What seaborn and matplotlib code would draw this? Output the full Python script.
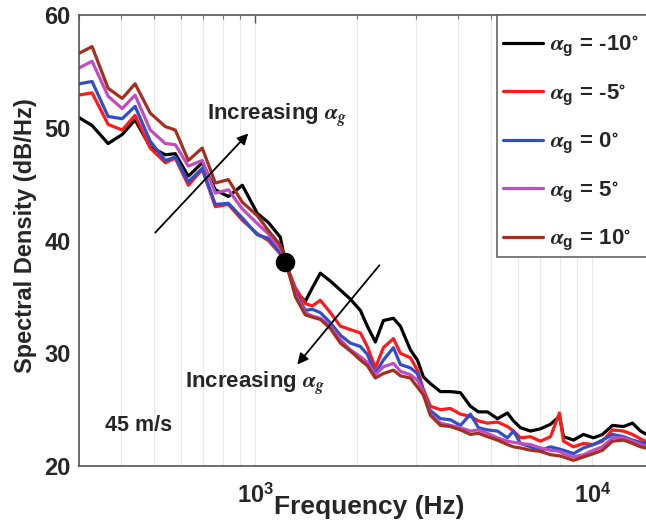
import numpy as np
import pandas as pd
import matplotlib
matplotlib.use("Agg")
import matplotlib.pyplot as plt
from matplotlib.patches import Rectangle
from matplotlib.ticker import LogLocator, NullFormatter, FixedLocator, MultipleLocator
import seaborn as sns

# ---- data -------------------------------------------------------------
freq_hz = [300, 328, 366, 403, 440, 488, 541, 579, 633, 696, 761, 832, 915,
           1014, 1093, 1186, 1227, 1315, 1407, 1476, 1559, 1670, 1788, 1914,
           2049, 2149, 2270, 2398, 2568, 2693, 2884, 3025, 3151, 3306, 3540,
           3790, 4058, 4345, 4589, 4880, 5225, 5595, 5831, 6114, 6546, 7010,
           7505, 7982, 8203, 8783, 9404, 10069, 10708, 11464, 12359, 13146,
           13883, 14862]

psd_m10 = [50.9, 50.2, 48.6, 49.4, 50.7, 48.3, 47.6, 47.7, 45.7, 46.9, 44.5,
           43.9, 44.9, 42.4, 41.6, 40.3, 38.1, 35.5, 34.6, 35.8, 37.1, 36.4,
           35.6, 34.8, 33.8, 32.4, 31.0, 32.9, 33.1, 32.4, 30.3, 29.4, 27.9,
           27.3, 26.6, 26.6, 26.5, 25.3, 24.8, 24.8, 24.2, 24.7, 24.0, 23.4,
           23.1, 23.3, 23.7, 24.4, 22.6, 22.3, 22.8, 22.5, 22.8, 23.6, 23.5,
           23.8, 23.1, 22.6]

psd_m5 = [52.9, 53.1, 50.3, 49.8, 51.1, 48.2, 46.9, 47.3, 44.9, 46.3, 43.0,
          43.2, 41.8, 40.6, 40.0, 38.8, 38.1, 35.8, 34.4, 34.2, 34.7, 33.6,
          32.4, 32.1, 31.8, 30.6, 28.7, 30.5, 31.3, 30.0, 29.6, 28.5, 26.8,
          25.3, 25.0, 25.1, 24.6, 24.4, 24.0, 23.8, 23.9, 23.5, 23.1, 22.5,
          22.6, 22.2, 22.6, 24.7, 22.2, 21.7, 22.0, 21.9, 22.2, 23.2, 23.1,
          22.8, 22.4, 22.0]

psd_0 = [53.9, 54.1, 51.0, 50.8, 51.9, 48.8, 47.1, 47.4, 45.2, 46.4, 43.2,
         43.3, 42.0, 40.5, 40.2, 38.9, 38.1, 35.4, 33.8, 33.9, 33.6, 32.7,
         31.6, 30.9, 30.6, 29.9, 28.2, 29.4, 30.5, 29.0, 28.7, 28.2, 26.5,
         24.9, 24.2, 24.1, 23.6, 24.6, 23.4, 23.2, 23.1, 22.5, 23.1, 22.0,
         21.7, 21.4, 21.7, 21.5, 21.4, 21.1, 21.6, 21.9, 22.3, 22.8, 22.6,
         22.3, 22.1, 21.9]

psd_p5 = [55.3, 55.9, 52.8, 51.7, 52.9, 49.8, 48.6, 48.5, 46.6, 47.1, 44.2,
          44.5, 42.8, 41.5, 40.6, 39.3, 38.2, 35.2, 33.6, 33.3, 33.1, 32.4,
          31.2, 30.3, 29.7, 29.2, 28.1, 28.8, 29.1, 28.4, 28.1, 27.6, 26.5,
          24.6, 23.8, 23.6, 23.4, 23.1, 23.2, 22.9, 22.5, 22.2, 22.1, 22.0,
          21.9, 21.6, 21.4, 21.3, 21.1, 20.8, 21.0, 21.4, 21.7, 22.5, 22.5,
          22.2, 21.9, 21.6]

psd_p10 = [56.6, 57.2, 53.5, 52.6, 53.9, 51.3, 50.1, 49.8, 47.1, 48.2, 45.1,
           45.4, 43.4, 42.2, 40.9, 39.6, 38.4, 35.0, 33.4, 33.2, 33.0, 32.2,
           30.9, 30.2, 29.4, 28.9, 27.8, 28.2, 28.5, 28.0, 27.8, 27.0, 26.3,
           24.5, 23.6, 23.5, 23.2, 22.8, 22.9, 22.6, 22.3, 21.9, 21.7, 21.6,
           21.4, 21.3, 21.0, 20.9, 20.8, 20.5, 20.8, 21.1, 21.4, 22.2, 22.3,
           22.0, 21.7, 21.5]

angle_labels = [r"$\alpha_\mathrm{g}$ = -10$^{\circ}$",
                r"$\alpha_\mathrm{g}$ = -5$^{\circ}$",
                r"$\alpha_\mathrm{g}$ = 0$^{\circ}$",
                r"$\alpha_\mathrm{g}$ = 5$^{\circ}$",
                r"$\alpha_\mathrm{g}$ = 10$^{\circ}$"]
series = [psd_m10, psd_m5, psd_0, psd_p5, psd_p10]
colors = ["#000000", "#ff1a1a", "#2f4fc8", "#c04cc0", "#a3301f"]

# crossover point marked on the spectra
cross_freq = [1227]
cross_psd = [38.1]

yticks = [20, 30, 40, 50, 60]
xticks = [1e3, 1e4]
xtick_labels = [r"$10^{3}$", r"$10^{4}$"]

# ---- style ------------------------------------------------------------
sns.set_style("white")
plt.rcParams["font.family"] = ["Liberation Sans", "DejaVu Sans"]
plt.rcParams["font.weight"] = "bold"
plt.rcParams["mathtext.fontset"] = "custom"
plt.rcParams["mathtext.rm"] = "Liberation Sans:bold"
plt.rcParams["mathtext.bf"] = "Liberation Sans:bold"
plt.rcParams["mathtext.it"] = "STIXGeneral:italic"
plt.rcParams["mathtext.fallback"] = "stix"

df = pd.concat(
    [pd.DataFrame({"Frequency": freq_hz, "PSD": vals, "angle": lab})
     for vals, lab in zip(series, angle_labels)],
    ignore_index=True)

fig = plt.figure(figsize=(6.46, 5.27), dpi=100)
W, H = 646, 527
ax = fig.add_axes([79 / W, 61 / H, 615 / W, 451 / H])

sns.lineplot(data=df, x="Frequency", y="PSD", hue="angle",
             hue_order=angle_labels, palette=colors, linewidth=2.3,
             ax=ax, legend=True, sort=False)
sns.scatterplot(x=cross_freq, y=cross_psd, color="black", s=170,
                edgecolor="black", ax=ax, zorder=5, legend=False)

ax.set_xscale("log")
ax.set_xlim(300, 20000)
ax.set_ylim(20, 60)

ax.xaxis.set_major_locator(FixedLocator(xticks))
ax.set_xticklabels(xtick_labels)
ax.xaxis.set_minor_locator(LogLocator(base=10, subs=np.arange(2, 10)))
ax.xaxis.set_minor_formatter(NullFormatter())
ax.set_yticks(yticks)
ax.yaxis.set_minor_locator(MultipleLocator(1))

ax.tick_params(axis="both", which="major", direction="in", length=6,
               width=1, color="#555555", labelsize=17, pad=6,
               top=True, right=True)
ax.tick_params(axis="both", which="minor", direction="in", length=3,
               width=0.8, color="#777777", top=True, right=True)
ax.tick_params(axis="x", which="major", pad=12)

ax.grid(True, axis="x", which="both", color="#e8e8e8", linewidth=0.8)
ax.grid(False, axis="y")
for sp in ax.spines.values():
    sp.set_color("#555555")
    sp.set_linewidth(1.2)

ax.set_xlabel("Frequency (Hz)", fontsize=19, fontweight="bold")
ax.set_ylabel("Spectral Density (dB/Hz)", fontsize=17, fontweight="bold")
ax.xaxis.set_label_coords((369 - 79) / 615, (466 - 495) / 451)
ax.yaxis.set_label_coords((37 - 79) / 615, 0.51)

# trend arrows and notes
arrow_kw = dict(arrowstyle="-|>", color="black", lw=1.3, mutation_scale=16,
                shrinkA=0, shrinkB=0)
ax.annotate("", xy=(953, 49.5), xytext=(505, 40.7), arrowprops=arrow_kw)
ax.annotate("", xy=(1332, 29.0), xytext=(2333, 37.8), arrowprops=arrow_kw)
ax.text(720, 50.6, r"Increasing $\alpha_g$", fontsize=16, fontweight="bold",
        ha="left", va="baseline")
ax.text(620, 26.8, r"Increasing $\alpha_g$", fontsize=16, fontweight="bold",
        ha="left", va="baseline")
ax.text(359, 23.6, "45 m/s", fontsize=15.5, fontweight="bold",
        ha="left", va="center")

# legend box: a wide frame that runs on past the right edge of the axes
box = Rectangle((497 / W, 1 - 257 / H), (720 - 497) / W, (257 - 15) / H,
                transform=fig.transFigure, facecolor="white",
                edgecolor="#666666", linewidth=1.2, zorder=6, clip_on=False)
ax.add_patch(box)

leg = ax.legend(loc="upper left", bbox_to_anchor=(484 / W, 1 - 15 / H),
                bbox_transform=fig.transFigure, borderaxespad=0,
                frameon=False, fontsize=16, handlelength=1.8,
                handletextpad=0.3, labelspacing=1.08, borderpad=0.85,
                title=None)
leg.set_zorder(7)
for line in leg.get_lines():
    line.set_linewidth(2.3)

fig.savefig("out.png", dpi=100)
